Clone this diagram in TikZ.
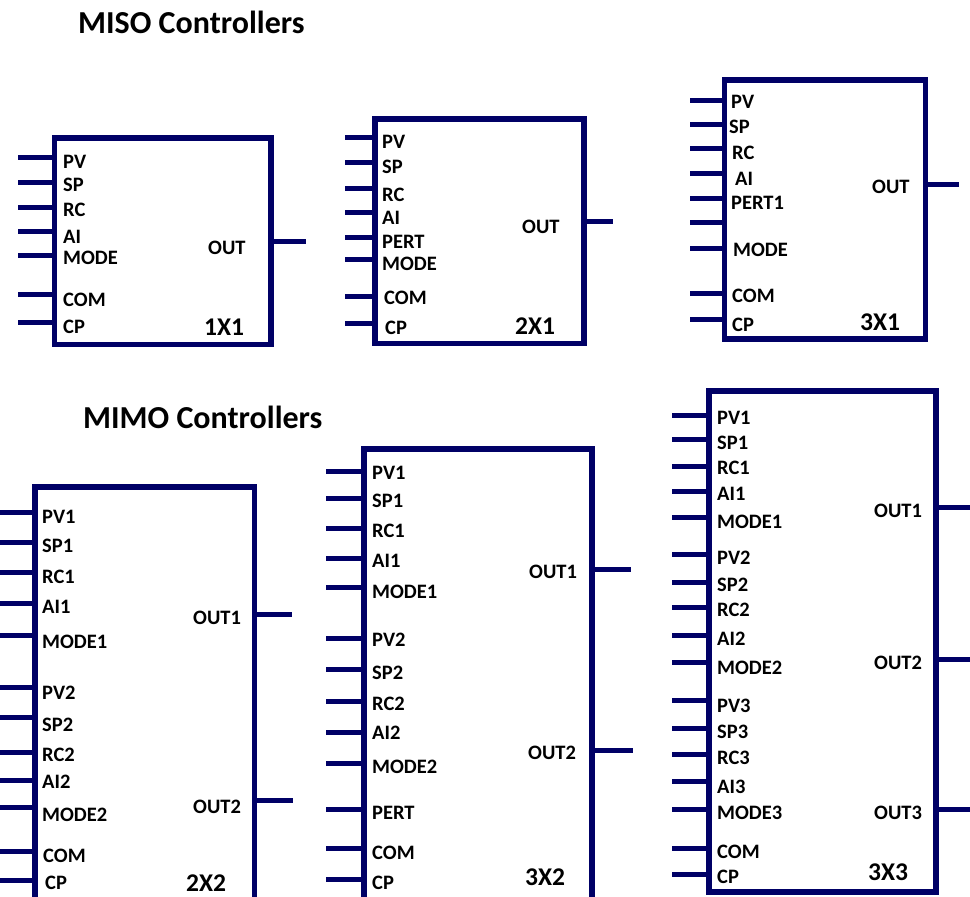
\documentclass[tikz,border=0pt]{standalone}
\usepackage{fontspec}
\setmainfont{Carlito}
\definecolor{navy}{RGB}{0,0,102}
\tikzset{
  box/.style={draw=navy, line width=5.5pt, rectangle, inner sep=0pt, outer sep=0pt, anchor=north west},
  wire/.style={draw=navy, line width=5pt},
  lab/.style={anchor=west, inner sep=0pt, font=\fontsize{20.5}{20.5}\selectfont\bfseries},
  sizelab/.style={anchor=west, inner sep=0pt, font=\fontsize{25.5}{25.5}\selectfont\bfseries},
  ttl/.style={anchor=base west, inner sep=0pt, font=\fontsize{32}{32}\selectfont\bfseries}
}
\begin{document}
\begin{tikzpicture}[x=1pt,y=-1pt]
\useasboundingbox (0,0) rectangle (970,897);
\clip (0,0) rectangle (970,897);
% titles
\node[ttl] (t1) at (78,33) {MISO Controllers};
\node[ttl] (t2) at (83,428) {MIMO Controllers};

% ---------- 1X1 ----------
\node[box, minimum width=216.5pt, minimum height=206.5pt] (B1) at (54.5,138) {};
\foreach \y in {157,182,207,231,255,294,322} \draw[wire] (B1.west |- 0,\y) -- (18,\y);
\foreach \t/\x/\y [count=\i] in {PV/63/162,SP/63/185,RC/63/210,AI/63/237,MODE/63/258,COM/63/300,CP/63/327}
  \node[lab] (B1l\i) at (\x,\y) {\t};
\draw[wire] (B1.east |- 0,241) -- (306,241);
\node[lab] (B1o) at (208,248) {OUT};
\node[sizelab] (B1s) at (204,327) {1X1};

% ---------- 2X1 ----------
\node[box, minimum width=209pt, minimum height=224.5pt] (B2) at (375,119) {};
\foreach \y in {137,162,188,212,237,259,296,323} \draw[wire] (B2.west |- 0,\y) -- (345,\y);
\foreach \t/\x/\y [count=\i] in {PV/382/142,SP/382/167,RC/382/195,AI/382/218,PERT/382/242,MODE/382/264,COM/384/298,CP/385/328}
  \node[lab] (B2l\i) at (\x,\y) {\t};
\draw[wire] (B2.east |- 0,221) -- (613,221);
\node[lab] (B2o) at (522,227) {OUT};
\node[sizelab] (B2s) at (515,326) {2X1};

% ---------- 3X1 ----------
\node[box, minimum width=201pt, minimum height=259pt] (B3) at (724.5,80) {};
\foreach \y in {100,124,148,173,198,222,248,293,319} \draw[wire] (B3.west |- 0,\y) -- (690,\y);
\foreach \t/\x/\y [count=\i] in {PV/731/102,SP/729/127,RC/732/153,AI/735/179,PERT1/731/203,MODE/733/250,COM/732/296,CP/732/325}
  \node[lab] (B3l\i) at (\x,\y) {\t};
\draw[wire] (B3.east |- 0,184) -- (959,184);
\node[lab] (B3o) at (872,187) {OUT};
\node[sizelab] (B3s) at (860,322) {3X1};

% ---------- 2X2 ----------
\node[box, minimum width=219.5pt, minimum height=450pt] (B4) at (35,487) {};
\foreach \y in {512,542,572,603,635,687,717,752,780,807,851,880} \draw[wire] (B4.west |- 0,\y) -- (-5,\y);
\foreach \t/\x/\y [count=\i] in {PV1/42/517,SP1/42/546,RC1/42/577,AI1/42/607,MODE1/42/642,PV2/42/693,SP2/42/725,RC2/42/755,AI2/42/782,MODE2/42/815,COM/43/856,CP/45/883}
  \node[lab] (B4l\i) at (\x,\y) {\t};
\draw[wire] (B4.east |- 0,614) -- (292,614);
\draw[wire] (B4.east |- 0,800) -- (293,800);
\node[lab] (B4o1) at (193,618) {OUT1};
\node[lab] (B4o2) at (193,807) {OUT2};
\node[sizelab] (B4s) at (186,883) {2X2};

% ---------- 3X2 ----------
\node[box, minimum width=228pt, minimum height=480pt] (B5) at (364,449) {};
\foreach \y in {471,498,528,558,587,638,669,701,732,763,809,848,879} \draw[wire] (B5.west |- 0,\y) -- (326,\y);
\foreach \t/\x/\y [count=\i] in {PV1/372/473,SP1/372/501,RC1/372/531,AI1/372/561,MODE1/372/592,PV2/372/640,SP2/372/673,RC2/372/704,AI2/372/733,MODE2/372/767,PERT/372/813,COM/372/853,CP/372/883}
  \node[lab] (B5l\i) at (\x,\y) {\t};
\draw[wire] (B5.east |- 0,569) -- (631,569);
\draw[wire] (B5.east |- 0,750) -- (633,750);
\node[lab] (B5o1) at (529,572) {OUT1};
\node[lab] (B5o2) at (528,753) {OUT2};
\node[sizelab] (B5s) at (525,877) {3X2};

% ---------- 3X3 ----------
\node[box, minimum width=227pt, minimum height=501pt] (B6) at (709,391) {};
\foreach \y in {415,439,466,491,517,554,582,607,635,662,700,728,754,781,809,848,874} \draw[wire] (B6.west |- 0,\y) -- (672,\y);
\foreach \t/\y [count=\i] in {PV1/418,SP1/443,RC1/468,AI1/494,MODE1/522,PV2/558,SP2/585,RC2/610,AI2/639,MODE2/668,PV3/706,SP3/732,RC3/758,AI3/787,MODE3/813,COM/852,CP/877}
  \node[lab] (B6l\i) at (717,\y) {\t};
\draw[wire] (B6.east |- 0,507) -- (975,507);
\draw[wire] (B6.east |- 0,659) -- (975,659);
\draw[wire] (B6.east |- 0,809) -- (975,809);
\node[lab] (B6o1) at (874,511) {OUT1};
\node[lab] (B6o2) at (874,663) {OUT2};
\node[lab] (B6o3) at (874,813) {OUT3};
\node[sizelab] (B6s) at (868,872) {3X3};
\end{tikzpicture}
\end{document}
